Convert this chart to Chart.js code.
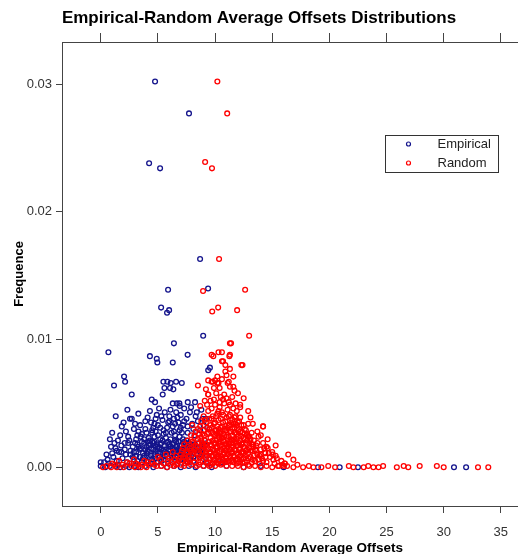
<!DOCTYPE html>
<html>
<head>
<meta charset="utf-8">
<script src="https://cdn.jsdelivr.net/npm/chart.js@4.4.0/dist/chart.umd.min.js"></script>
<style>
html,body{margin:0;padding:0;background:#fff;}
#wrap{width:518px;height:554px;position:relative;}
</style>
</head>
<body>
<div id="wrap"><canvas id="c"></canvas></div>
<script>
const chartTitle = 'Empirical-Random Average Offsets Distributions';
const xTitle = 'Empirical-Random Average Offsets';
const yTitle = 'Frequence';
const seriesNames = ['Empirical', 'Random'];
const xTicks = [0, 5, 10, 15, 20, 25, 30, 35];
const yTicks = [0, 0.01, 0.02, 0.03];

const empirical = [
[4.75,.0302],[7.72,.0277],[4.23,.0238],[5.19,.0234],[8.69,.0163],[5.89,.0139],[9.39,.0140],[5.28,.0125],[5.98,.0123],[5.8,.0121],[8.96,.0103],[6.4,.0097],[0.67,.0090],
[4.3,.0087],[4.9,.0085],[4.95,.0082],[6.3,.0082],[7.6,.0088],[9.4,.0076],[9.55,.0078],[2.04,.0071],[2.13,.0067],[1.16,.0064],
[5.48,.0067],[5.83,.0067],[6.12,.0066],[6.59,.0067],[7.09,.0066],[5.57,.0062],[6.06,.0062],[6.35,.0061],[2.71,.0057],[5.42,.0057],
[4.46,.0053],[4.75,.0051],[6.3,.0050],[6.65,.0050],[6.88,.0050],[7.61,.0051],[8.25,.0051],[2.33,.0045],[2.56,.0038],[2.71,.0038],[1.31,.0040],[3.29,.0042],[1.84,.0032],[3.44,.0033],
[1.0,.0027],[1.5,.0021],[1.7,.0025],[2.2,.0028],[2.4,.0024],[2.9,.0030],[3.1,.0022],[3.6,.0026],[3.9,.0030],[4.1,.0039],[4.3,.0044],[4.5,.0029],[4.7,.0034],[4.9,.0041],[5.1,.0046],[5.2,.0031],[5.4,.0037],[5.6,.0043],[5.7,.0027],[5.9,.0035],[6.0,.0040],[6.1,.0045],[6.3,.0032],[6.4,.0038],[6.5,.0025],[6.6,.0043],[6.8,.0035],[6.9,.0029],[7.0,.0041],[7.2,.0033],[7.3,.0046],[7.5,.0038],[7.6,.0027],[7.8,.0043],[8.0,.0034],[8.1,.0030],[8.3,.0040],[8.5,.0036],[8.7,.0029],[9.0,.0033],[9.2,.0038],[9.5,.0030],[7.9,.0047],[6.9,.0048],[5.0,.0025],[4.2,.0023],[3.3,.0028],[0.8,.0022],[2.0,.0035],[8.8,.0045],
[4.6,.0031],[4.8,.0038],[5.0,.0033],[5.3,.0040],[5.5,.0029],[5.8,.0031],[6.0,.0036],[6.2,.0027],[6.5,.0034],[6.7,.0039],[7.0,.0031],[7.3,.0036],[7.6,.0032],[8.4,.0043],[8.9,.0038],[4.4,.0035],[3.9,.0036],[3.0,.0034],
[0.3,.0004],[0.5,.0010],[0.7,.0003],[0.9,.0016],[1.1,.0008],[1.2,.0019],[1.4,.0005],[1.6,.0012],[1.8,.0017],[1.9,.0007],[2.1,.0014],[2.3,.0004],[2.4,.0019],[2.6,.0010],[2.8,.0016],[2.9,.0006],[3.1,.0012],[3.2,.0018],[3.4,.0008],[3.5,.0015],[3.7,.0011],[3.8,.0019],[4.0,.0005],[4.1,.0013],[4.2,.0017],[4.4,.0009],[4.5,.0020],[4.6,.0014],[4.8,.0007],[4.9,.0018],[5.0,.0011],[5.1,.0015],[5.3,.0019],[5.4,.0008],[5.5,.0013],[5.6,.0017],[5.8,.0010],[5.9,.0020],[6.0,.0014],[6.2,.0006],[6.3,.0018],[6.4,.0012],[6.6,.0016],[6.7,.0009],[6.8,.0020],[7.0,.0013],[7.1,.0017],[7.3,.0007],[7.4,.0015],[7.6,.0011],[7.7,.0019],[7.9,.0009],[8.0,.0014],[8.2,.0018],[8.4,.0010],[8.5,.0015],[8.7,.0008],[8.9,.0013],[9.1,.0017],[9.3,.0009],[9.6,.0012],[9.9,.0006],[10.2,.0008],[10.6,.0004],
[4.3,.0021],[4.7,.0024],[5.2,.0022],[5.7,.0023],[6.1,.0022],[6.5,.0021],[6.9,.0024],[7.2,.0022],[7.5,.0021],[4.0,.0016],[4.8,.0012],[5.5,.0006],[6.1,.0010],[6.8,.0005],[7.5,.0008],[5.0,.0004],[4.4,.0003],[3.6,.0004],[8.1,.0005],[2.7,.0003],[1.5,.0002],
[2.6,.0013],[2.8,.0008],[3.0,.0019],[3.2,.0005],[3.4,.0014],[3.6,.0020],[3.8,.0009],[4.0,.0011],[4.1,.0020],[4.3,.0007],[4.4,.0015],[4.6,.0019],[4.7,.0010],[4.9,.0004],[5.0,.0016],[5.2,.0012],[5.3,.0005],[5.4,.0021],[5.6,.0009],[5.7,.0014],[5.9,.0003],[6.0,.0018],[6.2,.0011],[6.3,.0015],[6.5,.0008],[6.6,.0020],[6.7,.0013],[6.9,.0017],[7.0,.0006],[7.2,.0012],[7.3,.0020],[7.5,.0016],[7.6,.0004],[7.8,.0011],[7.9,.0018],[8.1,.0008],[8.3,.0013],[8.6,.0019],[8.8,.0010],[9.0,.0015],[9.4,.0020],[9.2,.0004],[3.5,.0024],[4.5,.0027],[5.5,.0026],[6.4,.0028],[7.1,.0027],[8.2,.0025],[2.1,.0019],[1.4,.0013],
[2.9,.0012],[3.3,.0016],[3.7,.0007],[4.2,.0012],[4.5,.0006],[4.8,.0016],[5.1,.0008],[5.2,.0018],[5.6,.0012],[5.8,.0019],[6.1,.0016],[6.3,.0008],[6.5,.0014],[6.8,.0011],[7.1,.0009],[7.4,.0019],[7.7,.0014],[8.0,.0017],[8.4,.0016],[8.7,.0012],[3.1,.0009],[3.9,.0014],[4.3,.0018],[4.7,.0020],[5.3,.0014],[5.9,.0013],[6.4,.0019],[6.9,.0013],[7.3,.0010],[7.8,.0016],[2.2,.0010],[1.8,.0012],[1.0,.0011],[0.6,.0006],[1.3,.0015],[2.5,.0021],[3.2,.0025],[3.8,.0022],[4.0,.0027],[4.8,.0028],
[0.0,.0001],[0.0,.0004],[0.4,.0000],[0.8,.0001],[1.3,.0001],[1.7,.0000],[2.2,.0001],[2.5,.0000],[3.0,.0001],[3.3,.0000],[3.9,.0001],[4.6,.0000],[5.3,.0001],[5.8,.0000],[6.4,.0001],[7.0,.0000],[7.7,.0001],[8.3,.0000],[9.0,.0001],[9.7,.0000],[11.0,.0001],[12.5,.0000],[14.0,.0001],[16.0,.0000],[19.0,.0000],[20.9,.0000],[22.5,.0000],[30.9,.0000],[31.96,.0000]
];

const random = [
[10.2,.0302],[11.06,.0277],[9.13,.0239],[9.73,.0234],[10.35,.0163],[8.95,.0138],[12.63,.0139],[9.75,.0122],[10.27,.0125],[11.93,.0123],[12.98,.0103],[11.4,.0097],
[9.85,.0087],[10.6,.0090],[11.3,.0088],[10.7,.0083],[12.3,.0080],[10.9,.0075],[11.3,.0077],[9.8,.0067],[10.3,.0066],[11.1,.0066],[8.5,.0064],[10.4,.0062],[11.6,.0063],[9.4,.0057],[12.2,.0049],[13.1,.0039],[14.2,.0032],[12.8,.0025],[14.5,.0016],
[9.4,.0068],[9.7,.0067],[10.0,.0068],[10.2,.0066],[9.7,.0088],[10.3,.0090],[11.3,.0097],[10.6,.0083],[10.9,.0080],[11.25,.0087],[12.4,.0080],[11.6,.0071],[11.2,.0067],[11.3,.0063],
[9.4,.0057],[10.7,.0053],[12.2,.0047],[12.9,.0034],[14.2,.0032],[13.35,.0016],[15.05,.0010],[16.1,.0003],[16.85,.0006],
[0.5,.0001],[1.0,.0003],[1.4,.0000],[1.9,.0002],[2.3,.0004],[2.7,.0001],[3.1,.0003],[3.5,.0000],[3.8,.0005],[4.2,.0002],[4.5,.0004],[4.9,.0001],[5.2,.0006],[5.5,.0003],[5.8,.0000],[6.0,.0007],[6.2,.0004],[6.4,.0001],[6.6,.0009],[6.8,.0005],[7.0,.0002],[1.6,.0005],[2.9,.0006],[4.0,.0000],[5.0,.0008],[3.3,.0002],[2.0,.0000],[0.9,.0000],[5.7,.0010],[6.3,.0012],
[1.2,.0002],[2.5,.0003],[3.0,.0000],[3.6,.0002],[4.1,.0004],[4.7,.0002],[5.3,.0001],[5.9,.0005],[0.2,.0000],
[7.1,.0013],[7.2,.0008],[7.3,.0018],[7.4,.0003],[7.5,.0011],[7.6,.0021],[7.7,.0006],[7.8,.0015],[7.9,.0025],[8.0,.0010],[8.1,.0019],[8.2,.0004],[8.3,.0028],[8.4,.0013],[8.5,.0022],[8.6,.0008],[8.7,.0032],[8.8,.0017],[8.9,.0026],[9.0,.0012],[7.3,.0001],[7.9,.0002],[8.4,.0001],[8.9,.0005],[7.6,.0016],[8.2,.0024],[8.8,.0036],[8.5,.0030],[9.0,.0040],[8.0,.0033],
[9.1,.0021],[9.2,.0035],[9.2,.0007],[9.3,.0016],[9.4,.0044],[9.4,.0027],[9.5,.0011],[9.5,.0038],[9.6,.0002],[9.6,.0023],[9.7,.0031],[9.7,.0046],[9.8,.0014],[9.8,.0040],[9.9,.0026],[9.9,.0006],[10.0,.0019],[10.0,.0035],[10.0,.0049],[10.1,.0010],[10.1,.0029],[10.2,.0042],[10.2,.0016],[10.3,.0003],[10.3,.0024],[10.3,.0037],[10.4,.0047],[10.4,.0012],[10.5,.0031],[10.5,.0020],[10.6,.0008],[10.6,.0043],[10.7,.0026],[10.7,.0035],[10.8,.0015],[10.8,.0050],[10.9,.0004],[10.9,.0029],[11.0,.0039],[11.0,.0018],[9.3,.0049],[9.9,.0053],[10.5,.0055],[9.0,.0001],[9.5,.0001],[10.0,.0001],[10.5,.0002],[11.0,.0001],
[11.1,.0010],[11.1,.0045],[11.2,.0024],[11.2,.0033],[11.3,.0014],[11.3,.0041],[11.4,.0005],[11.4,.0028],[11.5,.0037],[11.5,.0019],[11.6,.0046],[11.6,.0009],[11.7,.0031],[11.7,.0022],[11.8,.0013],[11.8,.0040],[11.9,.0026],[11.9,.0003],[12.0,.0035],[12.0,.0017],[12.1,.0008],[12.1,.0030],[12.2,.0021],[12.2,.0039],[12.3,.0012],[12.4,.0027],[12.4,.0004],[12.5,.0033],[12.5,.0016],[12.6,.0022],[12.7,.0009],[12.7,.0029],[12.8,.0014],[12.9,.0024],[12.9,.0002],[13.0,.0019],[11.5,.0001],[12.0,.0001],[12.5,.0000],[13.0,.0001],[11.2,.0051],[11.9,.0044],
[8.1,.0012],[8.3,.0007],[8.5,.0016],[8.6,.0026],[8.7,.0004],[8.8,.0021],[8.9,.0013],[9.0,.0029],[9.1,.0009],[9.1,.0037],[9.2,.0018],[9.3,.0026],[9.4,.0004],[9.5,.0020],[9.5,.0030],[9.6,.0012],[9.7,.0017],[9.7,.0038],[9.8,.0008],[9.8,.0027],[9.9,.0019],[9.9,.0034],[10.0,.0006],[10.0,.0025],[10.1,.0015],[10.1,.0040],[10.2,.0032],[10.2,.0009],[10.3,.0019],[10.3,.0044],[10.4,.0027],[10.4,.0005],[10.5,.0014],[10.5,.0038],[10.6,.0023],[10.6,.0032],[10.7,.0010],[10.7,.0041],[10.8,.0020],[10.8,.0030],[10.9,.0013],[10.9,.0036],[11.0,.0007],[11.0,.0024],[11.1,.0031],[11.1,.0016],[11.2,.0005],[11.2,.0040],[11.3,.0020],[11.3,.0028],[11.4,.0011],[11.4,.0035],[11.5,.0025],[11.5,.0006],[11.6,.0016],[11.6,.0034],[11.7,.0008],[11.7,.0039],[11.8,.0019],[11.8,.0027],[11.9,.0011],[11.9,.0033],[12.0,.0006],[12.0,.0024],[12.1,.0014],[12.1,.0036],[12.2,.0028],[12.2,.0009],[12.3,.0018],[12.3,.0033],[12.4,.0012],[12.5,.0023],[12.5,.0007],[12.6,.0030],[12.6,.0015],[12.7,.0019],[12.8,.0005],[12.8,.0026],[12.9,.0011],[13.0,.0015],[13.1,.0022],[13.2,.0004],[13.3,.0018],[13.4,.0009],[13.6,.0013],[13.8,.0006],[14.0,.0010],[14.3,.0015],[7.4,.0007],[7.6,.0012],[7.8,.0004],[8.0,.0020],[8.2,.0014],[7.0,.0010],[6.7,.0003],[6.5,.0006],
[8.6,.0002],[8.8,.0009],[9.0,.0017],[9.1,.0025],[9.2,.0012],[9.3,.0003],[9.3,.0031],[9.4,.0014],[9.5,.0007],[9.6,.0033],[9.6,.0018],[9.7,.0009],[9.8,.0021],[9.8,.0003],[9.9,.0013],[10.0,.0029],[10.0,.0011],[10.1,.0021],[10.1,.0004],[10.2,.0026],[10.2,.0013],[10.3,.0008],[10.3,.0030],[10.4,.0017],[10.4,.0022],[10.5,.0009],[10.5,.0026],[10.6,.0003],[10.6,.0016],[10.7,.0021],[10.7,.0006],[10.8,.0011],[10.8,.0025],[10.9,.0018],[10.9,.0008],[11.0,.0013],[11.0,.0029],[11.1,.0005],[11.1,.0022],[11.2,.0012],[11.2,.0018],[11.3,.0008],[11.3,.0033],[11.4,.0016],[11.4,.0022],[11.5,.0012],[11.5,.0030],[11.6,.0004],[11.6,.0021],[11.7,.0014],[11.7,.0027],[11.8,.0006],[11.8,.0034],[11.9,.0017],[11.9,.0022],[12.0,.0010],[12.0,.0029],[12.1,.0004],[12.1,.0019],[12.2,.0015],[12.3,.0006],[12.3,.0024],[12.4,.0019],[12.5,.0011],[12.6,.0004],[12.6,.0026],[12.7,.0013],[12.8,.0021],[12.9,.0007],[13.0,.0024],[13.1,.0013],[13.2,.0018],[13.3,.0006],[13.5,.0014],[13.7,.0019],[13.9,.0009],[14.2,.0005],[14.4,.0008],[14.7,.0011],[15.1,.0006],[15.3,.0009],[16.0,.0001],[8.3,.0017],[8.5,.0011],[8.7,.0023],[8.9,.0019],[7.9,.0013],[7.7,.0009],[7.5,.0005],[7.2,.0015],[6.9,.0007],[6.6,.0002],[6.1,.0002],
[9.6,.0052],[10.1,.0058],[10.4,.0051],[10.8,.0057],[11.0,.0054],[11.3,.0049],[11.5,.0055],[11.8,.0050],[10.2,.0071],[10.6,.0069],[11.0,.0072],[12.0,.0058],[12.5,.0054],[9.9,.0062],[11.7,.0060],[9.2,.0061],[12.9,.0044],[13.3,.0034],[13.7,.0028],[14.0,.0025],[14.6,.0022],[15.3,.0017],[16.4,.0010],[8.7,.0048],[9.1,.0052],
[13.1,.0008],[13.2,.0027],[13.3,.0013],[13.4,.0021],[13.5,.0005],[13.6,.0017],[13.7,.0010],[13.8,.0024],[13.9,.0003],[14.0,.0014],[14.1,.0007],[14.2,.0019],[14.4,.0011],[14.5,.0004],[14.6,.0015],[14.8,.0008],[15.0,.0012],[15.2,.0003],[15.4,.0007],[15.6,.0001],[15.8,.0005],[16.1,.0003],[13.5,.0001],[14.0,.0000],[14.5,.0001],[15.0,.0000],[15.5,.0001],
[16.85,.0000],[17.7,.0000],[18.2,.0001],[19.3,.0000],[19.9,.0001],[20.5,.0000],[21.7,.0001],[22.1,.0000],[23.0,.0000],[23.4,.0001],[23.85,.0000],[24.3,.0000],[24.7,.0001],[25.9,.0000],[26.5,.0001],[26.9,.0000],[27.9,.0001],[29.4,.0001],[30.0,.0000],[33.0,.0000],[33.9,.0000],[17.2,.0002],[18.6,.0000],[16.3,.0001],[15.9,.0002]
];

const colors = ['#14148c', '#ff0000'];
const FONT = '"Liberation Sans", Arial, Helvetica, sans-serif';

const toPts = arr => arr.map(p => ({x: p[0], y: p[1]}));
const setTicks = vals => scale => { scale.ticks = vals.map(v => ({value: v})); };

const boxLegend = {
  id: 'boxLegend',
  afterDatasetsDraw(chart) {
    const ctx = chart.ctx;
    const a = chart.chartArea;
    const bx = a.left + 323.5, by = a.top + 93.5, bw = 113, bh = 37;
    ctx.save();
    ctx.fillStyle = '#fff';
    ctx.fillRect(bx, by, bw, bh);
    ctx.strokeStyle = '#333';
    ctx.lineWidth = 1;
    ctx.strokeRect(bx, by, bw, bh);
    chart.data.datasets.forEach((ds, i) => {
      const y = by + 8.5 + i * 19;
      ctx.beginPath();
      ctx.arc(bx + 23, y, 2, 0, Math.PI * 2);
      ctx.strokeStyle = ds.borderColor;
      ctx.lineWidth = 1.2;
      ctx.stroke();
      ctx.fillStyle = '#222';
      ctx.font = '13px ' + FONT;
      ctx.textBaseline = 'middle';
      ctx.textAlign = 'left';
      ctx.fillText(ds.label, bx + 52, y);
    });
    ctx.restore();
  }
};

const axisColor = '#444';
new Chart(document.getElementById('c'), {
  type: 'scatter',
  data: {
    datasets: [
      {label: seriesNames[0], data: toPts(empirical), borderColor: colors[0], backgroundColor: 'rgba(0,0,0,0)', pointRadius: 2.4, borderWidth: 1.3, order: 1},
      {label: seriesNames[1], data: toPts(random), borderColor: colors[1], backgroundColor: 'rgba(0,0,0,0)', pointRadius: 2.4, borderWidth: 1.3, order: 0}
    ]
  },
  options: {
    responsive: true,
    maintainAspectRatio: false,
    animation: false,
    layout: {padding: 0, autoPadding: false},
    plugins: {
      legend: {display: false},
      tooltip: {enabled: false},
      title: {
        display: true, text: chartTitle, color: '#000',
        font: {family: FONT, size: 17, weight: 'bold', lineHeight: 1},
        padding: {top: 10, bottom: 5}
      }
    },
    scales: {
      x: {
        type: 'linear', position: 'bottom', min: -3.39, max: 36.5,
        afterBuildTicks: setTicks(xTicks),
        afterFit: s => { s.height = 48; s.paddingLeft = 0; s.paddingRight = 0; },
        grid: {drawOnChartArea: false, drawTicks: true, tickLength: 7, color: axisColor},
        border: {display: true, color: axisColor, width: 1},
        ticks: {padding: 12, color: '#333', font: {family: FONT, size: 13}, maxRotation: 0, callback: v => String(v)},
        title: {display: true, text: xTitle, color: '#000', font: {family: FONT, size: 13.5, weight: 'bold'}, padding: {top: 0, bottom: -2}}
      },
      x2: {
        type: 'linear', position: 'top', min: -3.39, max: 36.5,
        afterBuildTicks: setTicks(xTicks),
        afterFit: s => { s.height = 10; s.paddingLeft = 0; s.paddingRight = 0; },
        grid: {drawOnChartArea: false, drawTicks: true, tickLength: 9, color: axisColor},
        border: {display: true, color: axisColor, width: 1},
        ticks: {display: false}
      },
      y: {
        type: 'linear', position: 'left', min: -0.00303, max: 0.03329,
        afterBuildTicks: setTicks(yTicks),
        afterFit: s => { s.width = 62; s.paddingTop = 0; s.paddingBottom = 0; },
        grid: {drawOnChartArea: false, drawTicks: true, tickLength: 6, color: axisColor},
        border: {display: true, color: axisColor, width: 1},
        ticks: {padding: 4, color: '#333', font: {family: FONT, size: 13}, callback: v => Number(v).toFixed(2)},
        title: {display: true, text: yTitle, color: '#000', font: {family: FONT, size: 13, weight: 'bold'}, padding: {top: 12, bottom: 0}}
      }
    }
  },
  plugins: [boxLegend]
});
</script>
</body>
</html>
